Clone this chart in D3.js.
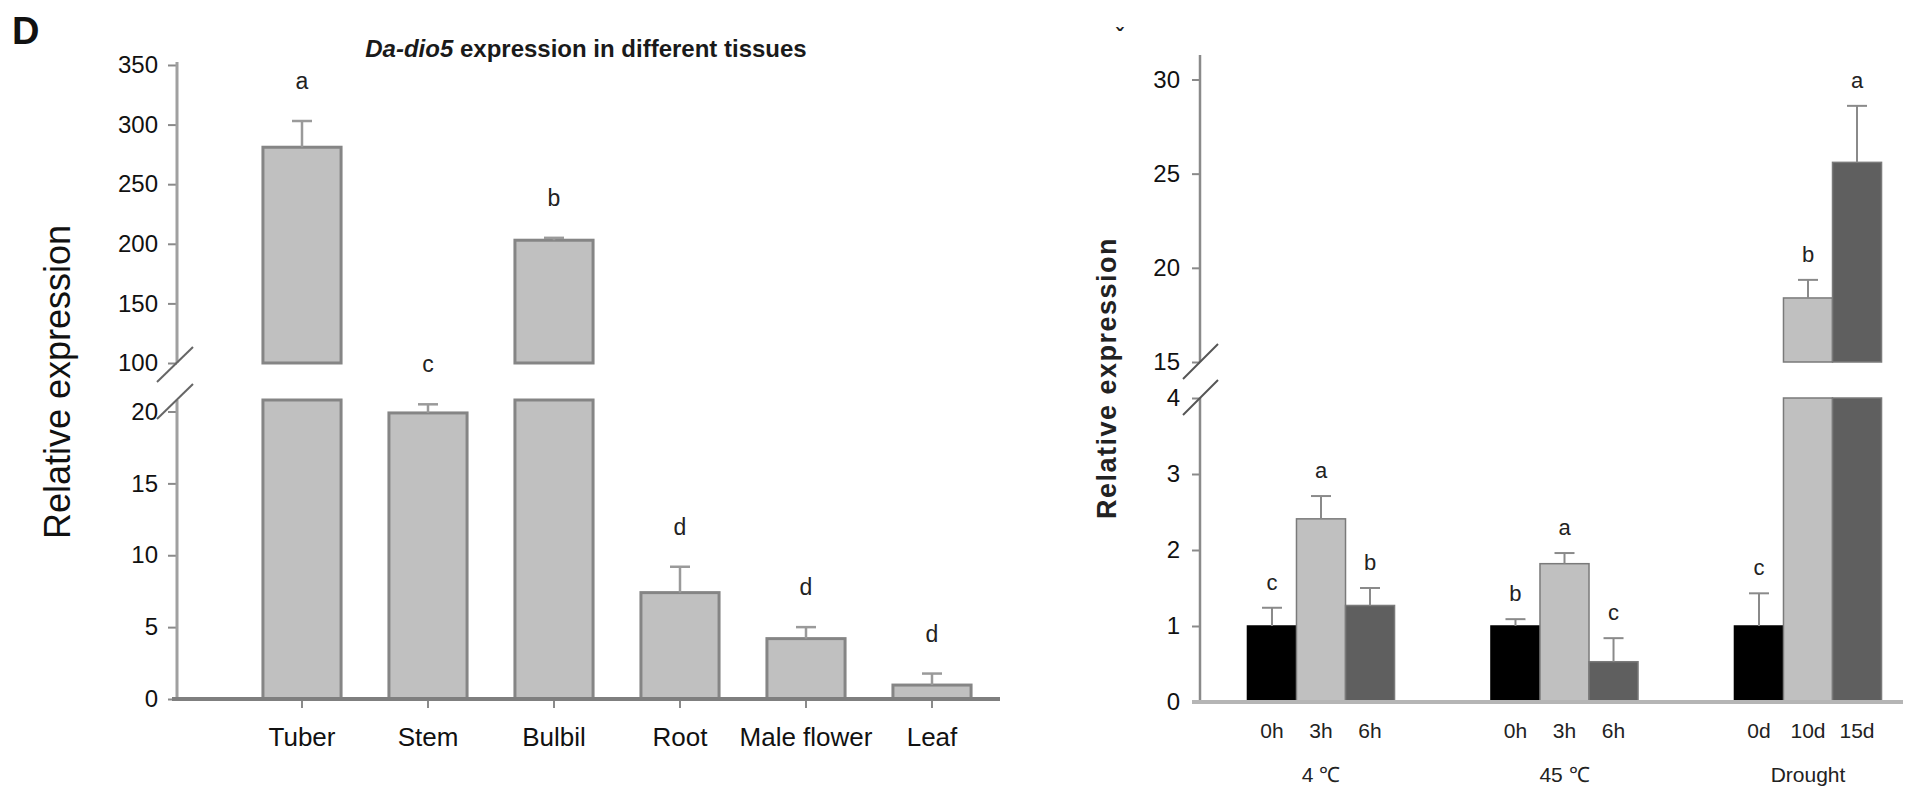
<!DOCTYPE html>
<html>
<head>
<meta charset="utf-8">
<script src="https://cdn.jsdelivr.net/npm/d3@7"></script>
<style>
  html, body { margin: 0; padding: 0; background: #fff; }
  svg { display: block; font-family: "Liberation Sans", Arial, sans-serif; }
</style>
</head>
<body>
<svg id="chart" width="1910" height="790"></svg>
<script>
// ---------------- DATA ----------------
// Panel D: tissues
const tissues = ["Tuber", "Stem", "Bulbil", "Root", "Male flower", "Leaf"];
const tissueMeans = [281, 19.9, 203, 7.4, 4.2, 0.97];
const tissueErrors = [22, 0.6, 2, 1.8, 0.8, 0.8];
const tissueLetters = ["a", "c", "b", "d", "d", "d"];
const tissueLowTicks = [0, 5, 10, 15, 20];
const tissueHighTicks = [100, 150, 200, 250, 300, 350];
const tissueLowDomain = [0, 20.8];
const tissueHighDomain = [100, 352.5];

// Panel E: stress treatments
const stressGroups = ["4 ℃", "45 ℃", "Drought"];
const stressTimes = [["0h", "3h", "6h"], ["0h", "3h", "6h"], ["0d", "10d", "15d"]];
const stressMeans = [[1.0, 2.41, 1.27], [1.0, 1.82, 0.53], [1.0, 18.4, 25.6]];
const stressErrors = [[0.24, 0.30, 0.23], [0.09, 0.14, 0.31], [0.43, 0.96, 3.0]];
const stressLetters = [["c", "a", "b"], ["b", "a", "c"], ["c", "b", "a"]];
const stressLowTicks = [0, 1, 2, 3, 4];
const stressHighTicks = [15, 20, 25, 30];
const stressLowDomain = [0, 4];
const stressHighDomain = [15, 31.3];
const stressColors = ["#000000", "#c0c0c0", "#5f5f5f"];

// ---------------- DRAW ----------------
const svg = d3.select("#chart");
const fmt = d3.format("d");

function styleAxis(g, fontSize) {
  g.select(".domain").remove();
  g.selectAll(".tick line").attr("stroke", "#8a8a8a").attr("stroke-width", 2);
  g.selectAll(".tick text").attr("fill", "#111").style("font-size", fontSize + "px")
    .style("font-family", "'Liberation Sans', Arial, sans-serif");
}

// ===== Panel D =====
(function () {
  const axisX = 177, baseY = 699;
  const x = d3.scaleBand().domain(tissues).range([239, 995]).paddingInner(0.38).paddingOuter(0.19);
  const yLow = d3.scaleLinear().domain(tissueLowDomain).range([699, 400]);
  const yHigh = d3.scaleLinear().domain(tissueHighDomain).range([363, 62]);
  const g = svg.append("g");

  svg.append("text").attr("x", 12).attr("y", 44).text("D")
    .style("font-size", "38px").style("font-weight", "bold").attr("fill", "#111");

  const title = svg.append("text").attr("x", 586).attr("y", 57).attr("text-anchor", "middle")
    .style("font-size", "24px").style("font-weight", "bold").attr("fill", "#1a1a1a");
  title.append("tspan").style("font-style", "italic").text("Da-dio5");
  title.append("tspan").text(" expression in different tissues");

  // y axes
  const aLow = g.append("g").attr("transform", `translate(${axisX},0)`)
    .call(d3.axisLeft(yLow).tickValues(tissueLowTicks).tickFormat(fmt).tickSize(9).tickSizeOuter(0).tickPadding(10));
  styleAxis(aLow, 24);
  const aHigh = g.append("g").attr("transform", `translate(${axisX},0)`)
    .call(d3.axisLeft(yHigh).tickValues(tissueHighTicks).tickFormat(fmt).tickSize(9).tickSizeOuter(0).tickPadding(10));
  styleAxis(aHigh, 24);
  g.append("line").attr("x1", axisX).attr("x2", axisX).attr("y1", yLow(0)).attr("y2", yLow(tissueLowDomain[1]))
    .attr("stroke", "#a0a0a0").attr("stroke-width", 3);
  g.append("line").attr("x1", axisX).attr("x2", axisX).attr("y1", yHigh(tissueHighDomain[0])).attr("y2", yHigh(tissueHighDomain[1]))
    .attr("stroke", "#a0a0a0").attr("stroke-width", 3);
  // break marks
  [yHigh(tissueHighDomain[0]), yLow(tissueLowDomain[1])].forEach(yy => {
    g.append("line").attr("x1", axisX - 20).attr("y1", yy + 19).attr("x2", axisX + 16).attr("y2", yy - 16)
      .attr("stroke", "#666").attr("stroke-width", 2);
  });

  // bars
  tissues.forEach((t, i) => {
    const v = tissueMeans[i], e = tissueErrors[i];
    const x0 = x(t), w = x.bandwidth();
    let topY, capY;
    if (v <= tissueLowDomain[1]) {
      g.append("rect").attr("x", x0).attr("width", w).attr("y", yLow(v)).attr("height", yLow(0) - yLow(v))
        .attr("fill", "#c0c0c0").attr("stroke", "#858585").attr("stroke-width", 3);
      topY = yLow(v); capY = yLow(v + e);
    } else {
      g.append("rect").attr("x", x0).attr("width", w).attr("y", yLow(tissueLowDomain[1]))
        .attr("height", yLow(0) - yLow(tissueLowDomain[1]))
        .attr("fill", "#c0c0c0").attr("stroke", "#858585").attr("stroke-width", 3);
      g.append("rect").attr("x", x0).attr("width", w).attr("y", yHigh(v))
        .attr("height", yHigh(tissueHighDomain[0]) - yHigh(v))
        .attr("fill", "#c0c0c0").attr("stroke", "#858585").attr("stroke-width", 3);
      topY = yHigh(v); capY = yHigh(v + e);
    }
    const cx = x0 + w / 2;
    g.append("line").attr("x1", cx).attr("x2", cx).attr("y1", topY).attr("y2", capY)
      .attr("stroke", "#9a9a9a").attr("stroke-width", 2.5);
    g.append("line").attr("x1", cx - 10).attr("x2", cx + 10).attr("y1", capY).attr("y2", capY)
      .attr("stroke", "#9a9a9a").attr("stroke-width", 2.5);
    g.append("text").attr("x", cx).attr("y", capY - 32).attr("text-anchor", "middle")
      .style("font-size", "23px").attr("fill", "#222").text(tissueLetters[i]);
  });

  // x axis
  const ax = g.append("g").attr("transform", `translate(0,${baseY})`)
    .call(d3.axisBottom(x).tickSize(9).tickSizeOuter(0).tickPadding(20));
  styleAxis(ax, 26);
  g.append("line").attr("x1", axisX - 5).attr("x2", 1000).attr("y1", baseY).attr("y2", baseY)
    .attr("stroke", "#7f7f7f").attr("stroke-width", 4);

  svg.append("text").attr("transform", `translate(70,382) rotate(-90)`).attr("text-anchor", "middle")
    .style("font-size", "36px").attr("fill", "#111").text("Relative expression");
})();

// ===== Panel E =====
(function () {
  const axisX = 1200, baseY = 702;
  const xg = d3.scaleBand().domain(stressGroups).range([1199.25, 1929.75]).paddingInner(0.396).paddingOuter(0.198);
  const xs = d3.scaleBand().domain([0, 1, 2]).range([0, xg.bandwidth()]).padding(0);
  const yLow = d3.scaleLinear().domain(stressLowDomain).range([702, 398]);
  const yHigh = d3.scaleLinear().domain(stressHighDomain).range([362, 55]);
  const g = svg.append("g");

  svg.append("text").attr("x", 1116).attr("y", 44).text("ˇ")
    .style("font-size", "22px").style("font-weight", "bold").attr("fill", "#222");

  const aLow = g.append("g").attr("transform", `translate(${axisX},0)`)
    .call(d3.axisLeft(yLow).tickValues(stressLowTicks).tickFormat(fmt).tickSize(8).tickSizeOuter(0).tickPadding(12));
  styleAxis(aLow, 24);
  const aHigh = g.append("g").attr("transform", `translate(${axisX},0)`)
    .call(d3.axisLeft(yHigh).tickValues(stressHighTicks).tickFormat(fmt).tickSize(8).tickSizeOuter(0).tickPadding(12));
  styleAxis(aHigh, 24);
  g.append("line").attr("x1", axisX).attr("x2", axisX).attr("y1", yLow(0)).attr("y2", yLow(stressLowDomain[1]))
    .attr("stroke", "#8a8a8a").attr("stroke-width", 2.5);
  g.append("line").attr("x1", axisX).attr("x2", axisX).attr("y1", yHigh(stressHighDomain[0])).attr("y2", yHigh(stressHighDomain[1]))
    .attr("stroke", "#8a8a8a").attr("stroke-width", 2.5);
  [yHigh(stressHighDomain[0]), yLow(stressLowDomain[1])].forEach(yy => {
    g.append("line").attr("x1", axisX - 17).attr("y1", yy + 17).attr("x2", axisX + 18).attr("y2", yy - 18)
      .attr("stroke", "#555").attr("stroke-width", 2);
  });

  stressGroups.forEach((grp, gi) => {
    stressMeans[gi].forEach((v, si) => {
      const e = stressErrors[gi][si];
      const x0 = xg(grp) + xs(si), w = xs.bandwidth();
      const col = stressColors[si];
      let topY, capY;
      if (v <= stressLowDomain[1]) {
        g.append("rect").attr("x", x0).attr("width", w).attr("y", yLow(v)).attr("height", yLow(0) - yLow(v))
          .attr("fill", col).attr("stroke", si === 0 ? "#000" : "#7a7a7a").attr("stroke-width", 1.5);
        topY = yLow(v); capY = yLow(v + e);
      } else {
        g.append("rect").attr("x", x0).attr("width", w).attr("y", yLow(stressLowDomain[1]))
          .attr("height", yLow(0) - yLow(stressLowDomain[1]))
          .attr("fill", col).attr("stroke", "#7a7a7a").attr("stroke-width", 1.5);
        g.append("rect").attr("x", x0).attr("width", w).attr("y", yHigh(v))
          .attr("height", yHigh(stressHighDomain[0]) - yHigh(v))
          .attr("fill", col).attr("stroke", "#7a7a7a").attr("stroke-width", 1.5);
        topY = yHigh(v); capY = yHigh(v + e);
      }
      const cx = x0 + w / 2;
      g.append("line").attr("x1", cx).attr("x2", cx).attr("y1", topY).attr("y2", capY)
        .attr("stroke", "#8a8a8a").attr("stroke-width", 2);
      g.append("line").attr("x1", cx - 10).attr("x2", cx + 10).attr("y1", capY).attr("y2", capY)
        .attr("stroke", "#8a8a8a").attr("stroke-width", 2);
      g.append("text").attr("x", cx).attr("y", capY - 18).attr("text-anchor", "middle")
        .style("font-size", "22px").attr("fill", "#222").text(stressLetters[gi][si]);
      g.append("text").attr("x", cx).attr("y", 738).attr("text-anchor", "middle")
        .style("font-size", "21px").attr("fill", "#222").text(stressTimes[gi][si]);
    });
    g.append("text").attr("x", xg(grp) + xg.bandwidth() / 2).attr("y", 782).attr("text-anchor", "middle")
      .style("font-size", "21px").attr("fill", "#222").text(grp);
  });

  g.append("line").attr("x1", axisX - 8).attr("x2", 1903).attr("y1", baseY).attr("y2", baseY)
    .attr("stroke", "#b5b5b5").attr("stroke-width", 4);

  svg.append("text").attr("transform", `translate(1116,378) rotate(-90)`).attr("text-anchor", "middle")
    .style("font-size", "27px").style("font-weight", "bold").style("letter-spacing", "1.5px")
    .attr("fill", "#222").text("Relative expression");
})();
</script>
</body>
</html>
